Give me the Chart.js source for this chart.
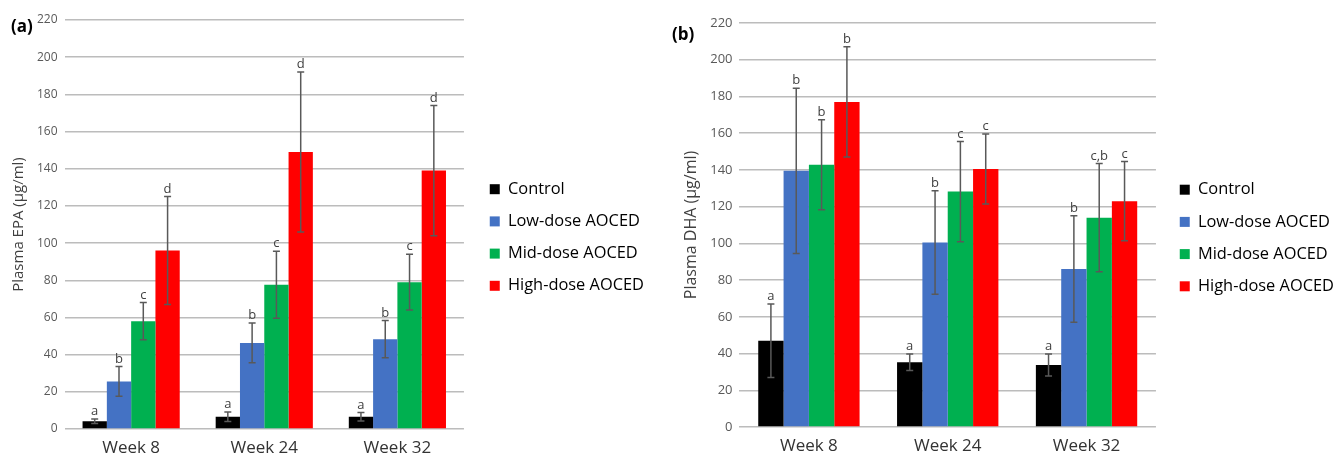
<!DOCTYPE html>
<html>
  <head>
    <title>Plasma EPA and DHA</title>
    <script src="https://cdn.jsdelivr.net/npm/chart.js"></script>
    <style>
      body { margin: 0; background: #fff; }
      .panel { position: absolute; top: 0; width: 672px; height: 456px; }
    </style>
  </head>
  <body>
    <div class="panel" style="left:0"><canvas id="chartA" width="672" height="456"></canvas></div>
    <div class="panel" style="left:672px"><canvas id="chartB" width="672" height="456"></canvas></div>

    <script>
      const weeks = ["Week 8", "Week 24", "Week 32"];
      const groups = ["Control", "Low-dose AOCED", "Mid-dose AOCED", "High-dose AOCED"];
      const colors = ["#000000", "#4472C4", "#00B050", "#FF0000"];
      const yTicks = [0, 20, 40, 60, 80, 100, 120, 140, 160, 180, 200, 220];

      // (a) plasma EPA, one array per group over the weeks
      const epaControl = [4.2, 6.6, 6.6];
      const epaLow = [25.6, 46.3, 48.3];
      const epaMid = [58, 77.6, 79];
      const epaHigh = [96, 149, 139];
      const epaErrControl = [1.2, 2.5, 2.3];
      const epaErrLow = [8, 10.7, 10];
      const epaErrMid = [10, 18, 15];
      const epaErrHigh = [29, 43, 35];
      const epaLetters = [["a", "a", "a"], ["b", "b", "b"], ["c", "c", "c"], ["d", "d", "d"]];

      // (b) plasma DHA
      const dhaControl = [47, 35.2, 33.8];
      const dhaLow = [139.5, 100.5, 86];
      const dhaMid = [142.8, 128.2, 114];
      const dhaHigh = [177, 140.5, 123];
      const dhaErrControl = [20, 4.5, 6];
      const dhaErrLow = [45, 28.2, 29];
      const dhaErrMid = [24.5, 27.3, 29.5];
      const dhaErrHigh = [30, 19, 21.6];
      const dhaLetters = [["a", "a", "a"], ["b", "b", "b"], ["b", "c", "c,b"], ["b", "c", "c"]];

      const errorBars = {
        id: "errorBars",
        afterDatasetsDraw(chart) {
          const ctx = chart.ctx;
          const y = chart.scales.y;
          chart.data.datasets.forEach((ds, i) => {
            const meta = chart.getDatasetMeta(i);
            meta.data.forEach((bar, j) => {
              const v = ds.data[j];
              const e = ds.errors[j];
              const top = y.getPixelForValue(v + e);
              const bot = y.getPixelForValue(v - e);
              ctx.save();
              ctx.strokeStyle = "#595959";
              ctx.lineWidth = 1.5;
              ctx.beginPath();
              ctx.moveTo(bar.x, top);
              ctx.lineTo(bar.x, bot);
              ctx.moveTo(bar.x - 3.5, top);
              ctx.lineTo(bar.x + 3.5, top);
              ctx.moveTo(bar.x - 3.5, bot);
              ctx.lineTo(bar.x + 3.5, bot);
              ctx.stroke();
              ctx.fillStyle = "#404040";
              ctx.font = "13px 'Open Sans'";
              ctx.textAlign = "center";
              ctx.textBaseline = "bottom";
              ctx.fillText(ds.letters[j], bar.x, top - 1);
              ctx.restore();
            });
          });
        },
      };

      const panelLabel = {
        id: "panelLabel",
        afterDraw(chart, args, opts) {
          const ctx = chart.ctx;
          ctx.save();
          ctx.fillStyle = "#000";
          ctx.font = "bold 17px 'Open Sans'";
          ctx.textBaseline = "middle";
          ctx.fillText(opts.text, opts.x, opts.y);
          ctx.restore();
        },
      };

      function makeChart(id, values, errs, letters, title, label, pad, gap, tickSize, titleSize, lx, ly) {
        const datasets = groups.map((g, i) => ({
          label: g,
          data: values[i],
          errors: errs[i],
          letters: letters[i],
          backgroundColor: colors[i],
          borderWidth: 0,
          categoryPercentage: 0.73,
          barPercentage: 1.0,
        }));

        return new Chart(document.getElementById(id), {
          type: "bar",
          data: { labels: weeks, datasets: datasets },
          plugins: [errorBars, panelLabel],
          options: {
            responsive: false,
            animation: false,
            layout: { padding: pad },
            plugins: {
              tooltip: { enabled: false },
              panelLabel: { text: label, x: lx, y: ly },
              legend: {
                position: "right",
                maxWidth: 260,
                labels: {
                  boxWidth: 10,
                  boxHeight: 10,
                  padding: 15.8,
                  color: "#000",
                  font: { family: "Open Sans", size: 16.4 },
                },
              },
            },
            scales: {
              x: {
                grid: { display: false },
                border: { display: false },
                ticks: { color: "#333", font: { family: "Open Sans", size: 17, lineHeight: 1 }, padding: 3 },
                afterFit: (axis) => {
                  axis.height = 26;
                },
              },
              y: {
                min: 0,
                max: 220,
                afterBuildTicks: (axis) => {
                  axis.ticks = yTicks.map((v) => ({ value: v }));
                },
                grid: { color: "#bcbcbc", lineWidth: 1.5, drawTicks: false },
                border: { display: false },
                ticks: { color: "#595959", font: { family: "Open Sans", size: tickSize }, padding: 7 },
                title: {
                  display: true,
                  text: title,
                  color: "#404040",
                  font: { family: "Open Sans", size: titleSize },
                  padding: 2,
                },
              },
              // empty spacer between the plot and the legend
              gap: {
                type: "linear",
                position: "right",
                display: true,
                grid: { display: false },
                border: { display: false },
                ticks: { display: false },
                afterFit: (axis) => {
                  axis.width = gap;
                },
              },
            },
          },
        });
      }

      function draw() {
        makeChart(
          "chartA",
          [epaControl, epaLow, epaMid, epaHigh],
          [epaErrControl, epaErrLow, epaErrMid, epaErrHigh],
          epaLetters,
          "Plasma EPA (\u00b5g/ml)",
          "(a)",
          { left: 8, right: 18, top: 20, bottom: 1 },
          10,
          12,
          15,
          11,
          27
        );

        makeChart(
          "chartB",
          [dhaControl, dhaLow, dhaMid, dhaHigh],
          [dhaErrControl, dhaErrLow, dhaErrMid, dhaErrHigh],
          dhaLetters,
          "Plasma DHA (\u00b5g/ml)",
          "(b)",
          { left: 8, right: 0, top: 23, bottom: 3 },
          8,
          13,
          16,
          0,
          35
        );
      }

      Promise.all([
        document.fonts.load("17px 'Open Sans'"),
        document.fonts.load("bold 17px 'Open Sans'"),
      ]).then(draw, draw);
    </script>
  </body>
</html>
